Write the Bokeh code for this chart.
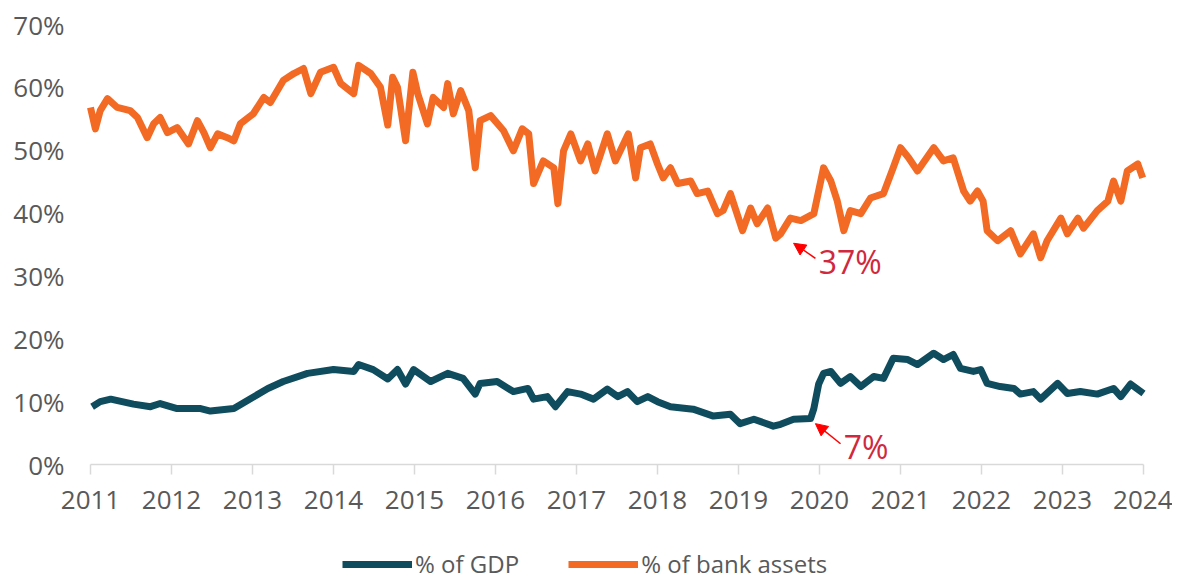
from bokeh.plotting import figure
from bokeh.models import (Range1d, FixedTicker, PrintfTickFormatter, Legend, LegendItem,
                          Arrow, NormalHead, Label)
from bokeh.embed import file_html
from bokeh.resources import INLINE

# ---- data (decimal year, percent) ----
bank_years = [2011.00, 2011.06, 2011.12, 2011.21, 2011.33, 2011.49, 2011.58, 2011.70, 2011.78, 2011.86,
              2011.95, 2012.07, 2012.21, 2012.32, 2012.40, 2012.48, 2012.57, 2012.69, 2012.77, 2012.85,
              2013.01, 2013.14, 2013.22, 2013.38, 2013.51, 2013.63, 2013.72, 2013.84, 2014.00, 2014.09,
              2014.25, 2014.31, 2014.46, 2014.58, 2014.67, 2014.73, 2014.79, 2014.89, 2014.98, 2015.04,
              2015.16, 2015.23, 2015.36, 2015.41, 2015.48, 2015.57, 2015.67, 2015.75, 2015.81, 2015.94,
              2016.10, 2016.22, 2016.33, 2016.41, 2016.47, 2016.59, 2016.72, 2016.77, 2016.84, 2016.93,
              2017.05, 2017.14, 2017.23, 2017.38, 2017.48, 2017.64, 2017.73, 2017.79, 2017.91, 2018.00,
              2018.07, 2018.16, 2018.25, 2018.41, 2018.49, 2018.62, 2018.74, 2018.81, 2018.90, 2019.05,
              2019.15, 2019.23, 2019.36, 2019.46, 2019.52, 2019.64, 2019.77, 2019.93, 2020.05, 2020.14,
              2020.22, 2020.30, 2020.38, 2020.51, 2020.63, 2020.79, 2020.91, 2021.00, 2021.10, 2021.21,
              2021.41, 2021.53, 2021.65, 2021.78, 2021.86, 2021.95, 2022.02, 2022.07, 2022.20, 2022.36,
              2022.48, 2022.64, 2022.73, 2022.81, 2022.98, 2023.06, 2023.19, 2023.26, 2023.43, 2023.56,
              2023.63, 2023.72, 2023.80, 2023.93, 2023.99]
bank_pct = [56.8, 53.4, 56.3, 58.2, 56.8, 56.3, 55.2, 52.0, 54.2, 55.2,
            52.8, 53.6, 51.0, 54.7, 52.8, 50.4, 52.6, 52.0, 51.5, 54.2,
            55.8, 58.4, 57.6, 61.1, 62.2, 63.0, 59.0, 62.4, 63.2, 60.6,
            59.0, 63.5, 62.2, 60.0, 54.0, 61.6, 60.0, 51.5, 62.4, 59.0,
            54.2, 58.4, 56.8, 60.6, 55.8, 59.5, 56.3, 47.2, 54.7, 55.5,
            53.1, 49.9, 53.4, 52.6, 44.7, 48.3, 47.2, 41.5, 49.9, 52.6,
            48.3, 51.0, 46.7, 52.6, 48.3, 52.6, 45.6, 50.4, 51.0, 47.8,
            45.6, 47.2, 44.7, 45.1, 43.1, 43.5, 39.9, 40.4, 43.1, 37.2,
            40.8, 38.3, 40.8, 36.0, 36.7, 39.2, 38.8, 39.9, 47.2, 45.1,
            41.9, 37.2, 40.4, 39.9, 42.4, 43.1, 47.2, 50.4, 48.8, 46.7,
            50.4, 48.3, 48.8, 43.5, 41.9, 43.5, 41.9, 37.2, 35.6, 37.2,
            33.5, 36.7, 32.9, 35.6, 39.2, 36.7, 39.2, 37.6, 40.4, 41.9,
            45.1, 41.9, 46.7, 47.8, 45.6]

gdp_years = [2011.02, 2011.12, 2011.25, 2011.53, 2011.74, 2011.86, 2012.07, 2012.36, 2012.48, 2012.77,
             2012.98, 2013.19, 2013.38, 2013.68, 2014.00, 2014.25, 2014.31, 2014.49, 2014.67, 2014.79,
             2014.89, 2014.99, 2015.20, 2015.41, 2015.60, 2015.75, 2015.81, 2016.02, 2016.22, 2016.40,
             2016.47, 2016.64, 2016.74, 2016.89, 2017.05, 2017.21, 2017.38, 2017.51, 2017.63, 2017.75,
             2017.88, 2018.00, 2018.16, 2018.44, 2018.69, 2018.90, 2019.02, 2019.19, 2019.43, 2019.52,
             2019.68, 2019.89, 2019.93, 2019.99, 2020.05, 2020.14, 2020.26, 2020.38, 2020.51, 2020.67,
             2020.79, 2020.91, 2021.09, 2021.21, 2021.41, 2021.53, 2021.65, 2021.74, 2021.90, 2021.99,
             2022.07, 2022.23, 2022.40, 2022.48, 2022.64, 2022.73, 2022.94, 2023.06, 2023.22, 2023.43,
             2023.63, 2023.72, 2023.84, 2024.00]
gdp_pct = [9.2, 10.0, 10.4, 9.6, 9.2, 9.7, 8.9, 8.9, 8.5, 8.9,
           10.5, 12.1, 13.2, 14.5, 15.1, 14.8, 15.9, 15.1, 13.6, 15.1,
           12.8, 15.1, 13.2, 14.5, 13.7, 11.2, 12.9, 13.2, 11.6, 12.1,
           10.4, 10.8, 9.2, 11.6, 11.2, 10.4, 12.0, 10.8, 11.6, 10.0,
           10.8, 10.0, 9.2, 8.8, 7.7, 8.0, 6.5, 7.2, 6.1, 6.4,
           7.2, 7.3, 8.9, 12.8, 14.5, 14.8, 12.9, 14.0, 12.4, 14.0,
           13.7, 16.9, 16.7, 15.9, 17.7, 16.7, 17.5, 15.3, 14.8, 15.1,
           12.9, 12.4, 12.1, 11.2, 11.6, 10.4, 12.9, 11.3, 11.6, 11.2,
           12.1, 10.8, 12.8, 11.3]

year_ticks = list(range(2011, 2025))
y_ticks = [0, 10, 20, 30, 40, 50, 60, 70]
series_names = ["% of GDP", "% of bank assets"]
annot_texts = ["37%", "7%"]

TEAL = "#0F4C5D"
ORANGE = "#F26A23"
FONT = "Open Sans"
GREY = "#595959"

# frame fills the whole canvas; axes are pinned at 2011 / 0 %
W, H = 1172, 580
PX_YEAR = 1053 / 13.0
PX_PCT = 440 / 70.0
x0 = 2011 - 90 / PX_YEAR
x1 = 2024 + (W - 1143) / PX_YEAR
y1 = 70 + 24 / PX_PCT
y0 = -(H - 464) / PX_PCT

p = figure(width=W, height=H, output_backend="svg", toolbar_location=None,
           x_range=Range1d(x0, x1), y_range=Range1d(y0, y1),
           min_border_left=0, min_border_right=0, min_border_top=0, min_border_bottom=0)
p.outline_line_color = None
p.xgrid.grid_line_color = None
p.ygrid.grid_line_color = None
p.background_fill_color = "white"

r_gdp = p.line(gdp_years, gdp_pct, line_color=TEAL, line_width=7, line_join="round")
r_bank = p.line(bank_years, bank_pct, line_color=ORANGE, line_width=7, line_join="round")

# x axis drawn at 0%
xa = p.xaxis[0]
xa.fixed_location = 0
xa.bounds = (2011, 2024)
xa.ticker = FixedTicker(ticks=year_ticks)
xa.axis_line_color = "#d9d9d9"
xa.axis_line_width = 1.5
xa.major_tick_line_color = "#d9d9d9"
xa.major_tick_line_width = 1.5
xa.major_tick_out = 10
xa.major_tick_in = 0
xa.minor_tick_line_color = None
xa.major_label_text_font = FONT
xa.major_label_text_font_size = "26px"
xa.major_label_text_color = GREY
xa.major_label_standoff = 16

# y axis drawn at 2011
ya = p.yaxis[0]
ya.fixed_location = 2011
ya.ticker = FixedTicker(ticks=y_ticks)
ya.formatter = PrintfTickFormatter(format="%d%%")
ya.axis_line_color = None
ya.major_tick_line_color = None
ya.minor_tick_line_color = None
ya.major_tick_out = 0
ya.major_label_standoff = 26
ya.major_label_text_font = FONT
ya.major_label_text_font_size = "26px"
ya.major_label_text_color = GREY

# annotations
RED = "#FF0000"
TXT = "#D0283E"
p.add_layout(Arrow(end=NormalHead(size=12, fill_color=RED, line_color=RED),
                   x_start=2019.95, y_start=32.8, x_end=2019.68, y_end=35.2,
                   line_color=RED, line_width=1.5))
p.add_layout(Label(x=2019.99, y=32.3, text=annot_texts[0], text_font=FONT,
                   text_font_size="32px", text_color=TXT, text_baseline="middle"))
p.add_layout(Arrow(end=NormalHead(size=12, fill_color=RED, line_color=RED),
                   x_start=2020.26, y_start=3.3, x_end=2019.95, y_end=6.5,
                   line_color=RED, line_width=1.5))
p.add_layout(Label(x=2020.30, y=2.9, text=annot_texts[1], text_font=FONT,
                   text_font_size="32px", text_color=TXT, text_baseline="middle"))

legend = Legend(items=[LegendItem(label=series_names[0], renderers=[r_gdp]),
                       LegendItem(label=series_names[1], renderers=[r_bank])],
                orientation="horizontal", location=(342, 0),
                glyph_width=70, glyph_height=20, label_standoff=3, spacing=49,
                label_text_font=FONT, label_text_font_size="24px", label_text_color=GREY,
                border_line_color=None, background_fill_alpha=0, padding=0, margin=0)
p.add_layout(legend, "center")

open("out.html", "w").write(file_html(p, INLINE))
